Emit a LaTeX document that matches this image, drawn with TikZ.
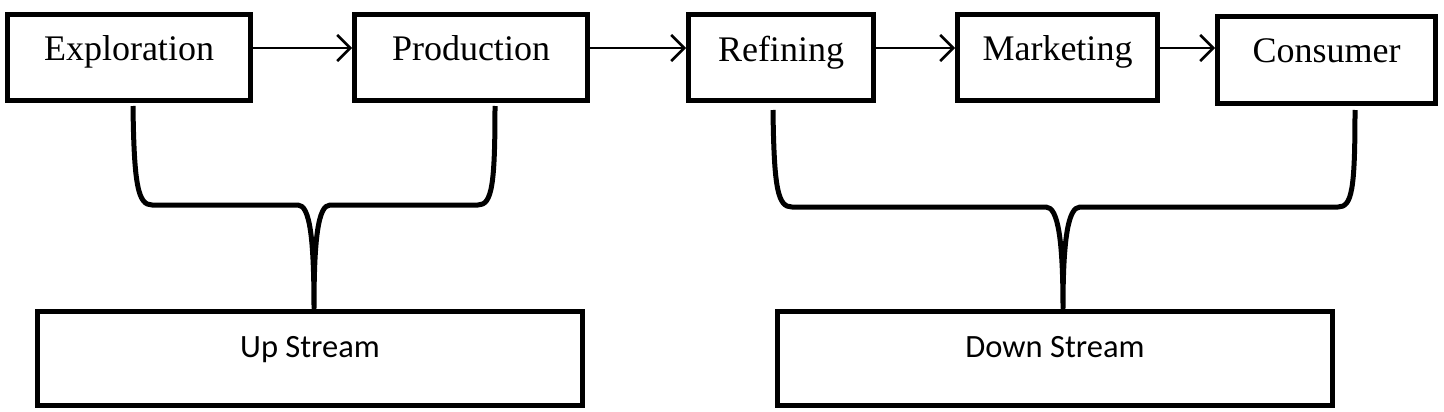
\documentclass[tikz,border=0pt]{standalone}
\usepackage{fontspec}
\setmainfont{Liberation Serif}
\newfontfamily\bodyfont{Carlito}
\usetikzlibrary{arrows.meta,calc}
\tikzset{
  topbox/.style={draw, line width=5pt, inner sep=0pt, font=\fontsize{36}{40}\selectfont},
  botbox/.style={draw, line width=5pt, inner sep=0pt, font=\bodyfont\fontsize{32.5}{38}\selectfont},
  flow/.style={line width=2.5pt, -{Straight Barb[length=13pt,width=26pt,line width=2.5pt]}},
  brace/.style={line width=5pt, line join=round}
}
\begin{document}
\begin{tikzpicture}[x=1pt,y=-1pt]
\useasboundingbox (0,0) rectangle (1444,412);
\node[topbox, minimum width=243pt, minimum height=86pt] (expl) at (129,57.5) {\raisebox{18pt}{Exploration}};
\node[topbox, minimum width=233pt, minimum height=86pt] (prod) at (471,57.5) {\raisebox{18pt}{Production}};
\node[topbox, minimum width=185pt, minimum height=86pt] (refi) at (781,57.5) {\raisebox{18pt}{Refining}};
\node[topbox, minimum width=200pt, minimum height=86pt] (mark) at (1057.5,57.5) {\raisebox{18pt}{Marketing}};
\node[topbox, minimum width=218pt, minimum height=87pt] (cons) at (1326.5,60) {\raisebox{18pt}{Consumer}};
\node[botbox, minimum width=545pt, minimum height=94pt] (up) at (310,358.5) {\raisebox{24pt}{Up Stream}};
\node[botbox, minimum width=555pt, minimum height=94pt] (down) at (1055,358.5) {\raisebox{24pt}{Down Stream}};

\draw[flow] (expl.east |- 0,48) -- (prod.west |- 0,48);
\draw[flow] (prod.east |- 0,48) -- (refi.west |- 0,48);
\draw[flow] (refi.east |- 0,48) -- (mark.west |- 0,48);
\draw[flow] (mark.east |- 0,48) -- (cons.west |- 0,48);

\coordinate (uL) at (133,106);
\coordinate (uR) at (495,106);
\coordinate (tipU) at ($(up.north)+(4,-1)$);
\draw[brace] (uL) .. controls (134,185) and (138,205) .. (152,205) -- (298,205)
  .. controls (310,205) and (314,240) .. (tipU)
  .. controls (314,240) and (318,205) .. (330,205) -- (478,205)
  .. controls (492,205) and (495,185) .. (uR);

\coordinate (dL) at (773,110);
\coordinate (dR) at (1355,110);
\coordinate (tipD) at ($(down.north)+(8,-1)$);
\draw[brace] (dL) .. controls (774,190) and (778,207) .. (792,207) -- (1046,207)
  .. controls (1058,207) and (1063,240) .. (tipD)
  .. controls (1063,240) and (1068,207) .. (1080,207) -- (1338,207)
  .. controls (1352,207) and (1355,190) .. (dR);
\end{tikzpicture}
\end{document}
